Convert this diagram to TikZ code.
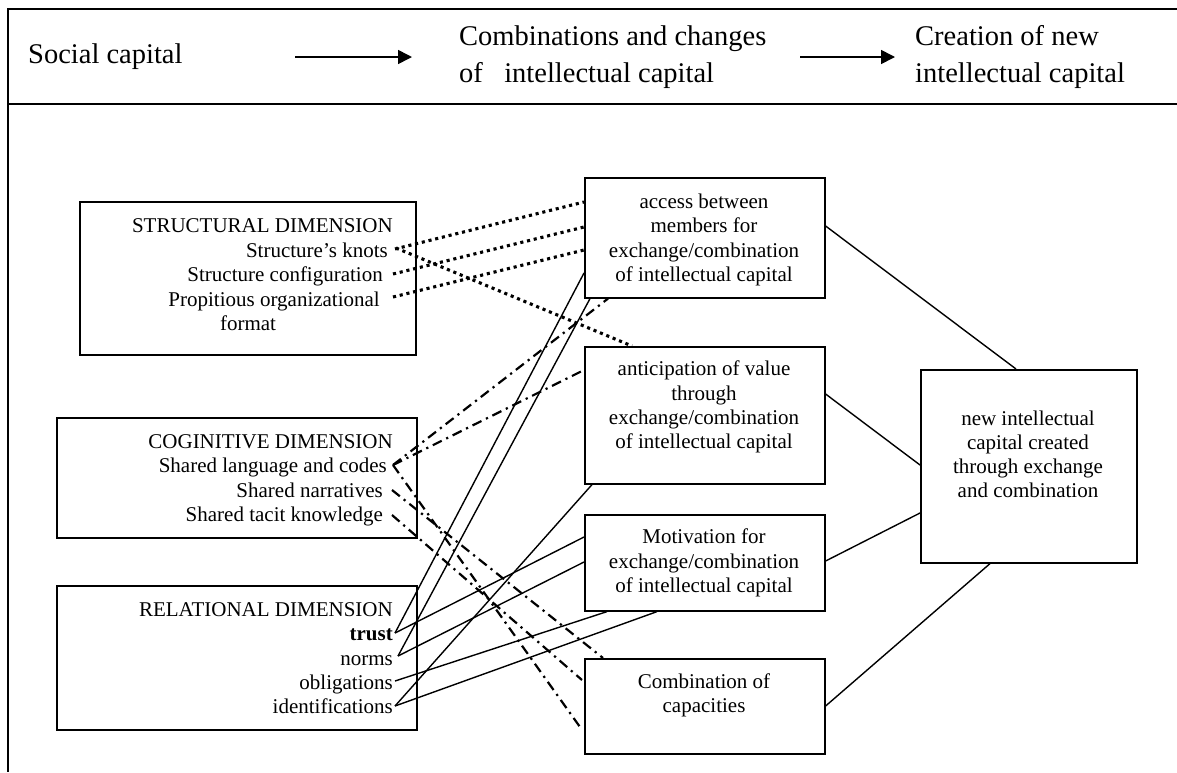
\documentclass[tikz,border=0pt]{standalone}
\usepackage{fontspec}
\setmainfont{Liberation Serif}
\usetikzlibrary{arrows.meta}
\begin{document}
\begin{tikzpicture}[x=1pt,y=-1pt,
  box/.style={draw, line width=1.6pt, inner sep=0pt, anchor=north west},
  txt/.style={inner sep=0pt, font=\fontsize{21}{24}\selectfont},
  rtxt/.style={txt, anchor=base east},
  ctxt/.style={txt, anchor=base},
  hdr/.style={inner sep=0pt, font=\fontsize{28.5}{34}\selectfont, anchor=base west},
  dotln/.style={line width=3.1pt, dash pattern=on 3.1pt off 3.8pt},
  ddln/.style={line width=2.2pt, dash pattern=on 10pt off 5pt on 2.2pt off 5pt},
  sol/.style={line width=1.4pt},
  frameln/.style={line width=1.6pt},
  harrow/.style={line width=1.6pt, -{Triangle[length=14pt,width=14pt]}}]
\useasboundingbox (0,0) rectangle (1177,772);

% frame
\coordinate (ftl) at (8,9);
\coordinate (ftr) at (1180,9);
\coordinate (fbl) at (8,772);
\coordinate (fml) at (8,104);
\coordinate (fmr) at (1180,104);
\draw[frameln] (ftr) -- (ftl) -- (fbl);
\draw[frameln] (fml) -- (fmr);

% header
\node[hdr] (h1) at (28,63) {Social capital};
\node[hdr] (h2a) at (459,45) {Combinations and changes};
\node[hdr] (h2b) at (459,82) {of\ \ \ intellectual capital};
\node[hdr] (h3a) at (915,45) {Creation of new};
\node[hdr] (h3b) at (915,82) {intellectual capital};
\coordinate (a1s) at (295,57);
\coordinate (a1e) at (412,57);
\coordinate (a2s) at (800,57);
\coordinate (a2e) at (895,57);
\draw[harrow] (a1s) -- (a1e);
\draw[harrow] (a2s) -- (a2e);

% boxes
\node[box, minimum width=336pt, minimum height=153pt] (str) at (79,201) {};
\node[box, minimum width=360pt, minimum height=120pt] (cog) at (56,417) {};
\node[box, minimum width=360pt, minimum height=144pt] (rel) at (56,585) {};
\node[box, minimum width=240pt, minimum height=120pt] (acc) at (584,177) {};
\node[box, minimum width=240pt, minimum height=137pt] (ant) at (584,346) {};
\node[box, minimum width=240pt, minimum height=96pt] (mot) at (584,514) {};
\node[box, minimum width=240pt, minimum height=95pt] (com) at (584,658) {};
\node[box, minimum width=216pt, minimum height=193pt] (new) at (920,369) {};

% left texts
\node[rtxt] (str0) at (393,232) {STRUCTURAL DIMENSION};
\node[rtxt] (str1) at (388,257) {Structure’s knots};
\node[rtxt] (str2) at (383,281) {Structure configuration};
\node[rtxt] (str3) at (380,306) {Propitious organizational};
\node[ctxt] (str4) at (248,330) {format};

\node[rtxt] (cog0) at (393,448) {COGINITIVE DIMENSION};
\node[rtxt] (cog1) at (387,472) {Shared language and codes};
\node[rtxt] (cog2) at (383,497) {Shared narratives};
\node[rtxt] (cog3) at (383,521) {Shared tacit knowledge};

\node[rtxt] (rel0) at (393,616) {RELATIONAL DIMENSION};
\node[rtxt] (rel1) at (393,640) {\textbf{trust}};
\node[rtxt] (rel2) at (393,665) {norms};
\node[rtxt] (rel3) at (393,689) {obligations};
\node[rtxt] (rel4) at (393,713) {identifications};

% middle texts
\node[ctxt] (acc1) at (704,208) {access between};
\node[ctxt] (acc2) at (704,232) {members for};
\node[ctxt] (acc3) at (704,257) {exchange/combination};
\node[ctxt] (acc4) at (704,281) {of intellectual capital};

\node[ctxt] (ant1) at (704,375) {anticipation of value};
\node[ctxt] (ant2) at (704,400) {through};
\node[ctxt] (ant3) at (704,424) {exchange/combination};
\node[ctxt] (ant4) at (704,448) {of intellectual capital};

\node[ctxt] (mot1) at (704,543) {Motivation for};
\node[ctxt] (mot2) at (704,568) {exchange/combination};
\node[ctxt] (mot3) at (704,592) {of intellectual capital};

\node[ctxt] (com1) at (704,688) {Combination of};
\node[ctxt] (com2) at (704,712) {capacities};

\node[ctxt] (new1) at (1028,425) {new intellectual};
\node[ctxt] (new2) at (1028,449) {capital created};
\node[ctxt] (new3) at (1028,473) {through exchange};
\node[ctxt] (new4) at (1028,497) {and combination};

% dotted connectors (structural)
\draw[dotln] ([xshift=7pt,yshift=8pt]str1.base east) -- ([yshift=-25pt]acc.north west);
\draw[dotln] ([xshift=8pt,yshift=9pt]str1.base east) -- ([xshift=48pt]ant.north west);
\draw[dotln] ([xshift=10pt,yshift=7pt]str2.base east) -- ([yshift=-50pt]acc.north west);
\draw[dotln] ([xshift=13pt,yshift=9pt]str3.base east) -- ([yshift=-73pt]acc.north west);

% dash-dot connectors (cognitive)
\draw[ddln] ([xshift=6pt,yshift=7pt]cog1.base east) -- ([xshift=24pt]acc.south west);
\draw[ddln] ([xshift=6pt,yshift=7pt]cog1.base east) -- ([yshift=-24pt]ant.north west);
\draw[ddln] ([xshift=6pt,yshift=7pt]cog1.base east) -- ([xshift=-4pt,yshift=-69pt]com.north west);
\draw[ddln] ([xshift=9pt,yshift=7pt]cog2.base east) -- ([xshift=19pt]com.north west);
\draw[ddln] ([xshift=9pt,yshift=6pt]cog3.base east) -- ([xshift=-2pt,yshift=-22pt]com.north west);

% solid connectors (relational)
\draw[sol] ([xshift=2pt,yshift=7pt]rel1.base east) -- ([yshift=-96pt]acc.north west);
\draw[sol] ([xshift=2pt,yshift=7pt]rel1.base east) -- ([yshift=-23pt]mot.north west);
\draw[sol] ([xshift=5pt,yshift=9pt]rel2.base east) -- ([xshift=6pt]acc.south west);
\draw[sol] ([xshift=5pt,yshift=9pt]rel2.base east) -- ([yshift=-48pt]mot.north west);
\draw[sol] ([xshift=2pt,yshift=8pt]rel3.base east) -- ([xshift=23pt]mot.south west);
\draw[sol] ([xshift=2pt,yshift=7pt]rel4.base east) -- ([xshift=8pt]ant.south west);
\draw[sol] ([xshift=2pt,yshift=7pt]rel4.base east) -- ([xshift=73pt]mot.south west);

% right connectors
\draw[sol] ([yshift=-49pt]acc.north east) -- ([xshift=96pt]new.north west);
\draw[sol] ([yshift=-48pt]ant.north east) -- ([yshift=-96pt]new.north west);
\draw[sol] ([yshift=-47pt]mot.north east) -- ([yshift=-144pt]new.north west);
\draw[sol] ([yshift=-48pt]com.north east) -- ([xshift=70pt]new.south west);
\end{tikzpicture}
\end{document}
